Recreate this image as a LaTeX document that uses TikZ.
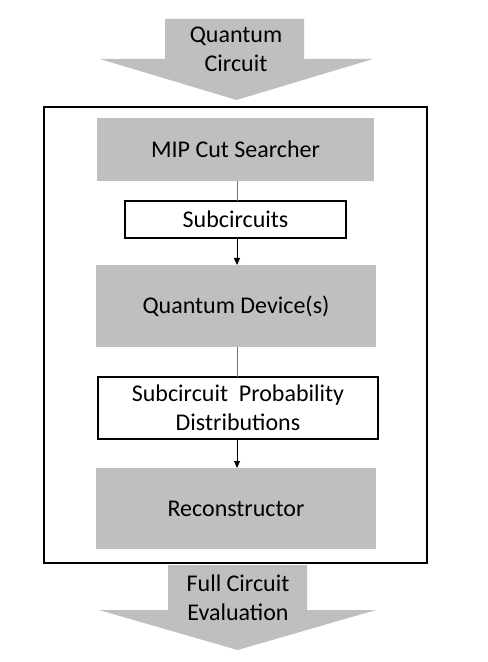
\documentclass[tikz,border=0pt]{standalone}
\usepackage{fontspec}
\setmainfont{Carlito}
\usetikzlibrary{arrows.meta}
\definecolor{boxgray}{RGB}{191,191,191}
\tikzset{
  graybox/.style={fill=boxgray, draw=none, inner sep=0pt, align=center},
  whitebox/.style={fill=white, draw=black, line width=0.6pt, inner sep=0pt, align=center},
  plainline/.style={draw=black!55, line width=0.5pt},
  arrowline/.style={draw=black, line width=0.5pt, -{Triangle[width=3pt,length=3.5pt]}},
  blockarrow/.style={fill=boxgray, draw=none},
  txt/.style={font=\fontsize{12}{14.5}\selectfont}
}
\begin{document}
\begin{tikzpicture}[x=0.5pt,y=-0.5pt, every node/.style={txt}]
\useasboundingbox (0,0) rectangle (487,662);
% top block arrow
\fill[blockarrow] (165,19) -- (304,19) -- (304,59) -- (373,59) -- (236.5,100) -- (100,59) -- (165,59) -- cycle;
\node[align=center] (qc) at (236,49) {Quantum\\Circuit};
% outer frame
\draw[line width=0.9pt] (44,107) rectangle (427,563);
% boxes
\node[graybox, minimum width=138.5pt, minimum height=31.5pt] (mip) at (235.5,149.5) {MIP Cut Searcher};
\node[whitebox, minimum width=110.5pt, minimum height=18.5pt] (sub) at (235.5,219.5) {Subcircuits};
\node[graybox, minimum width=140pt, minimum height=41pt] (qd) at (236,306) {Quantum Device(s)};
\node[whitebox, minimum width=140pt, minimum height=31pt] (spd) at (238,408) {Subcircuit~~Probability\\Distributions};
\node[graybox, minimum width=140pt, minimum height=40.5pt] (rec) at (236,508.5) {Reconstructor};
% connectors
\coordinate (c1) at (237,181);
\coordinate (c2) at (237,201);
\coordinate (c3) at (237,238);
\coordinate (c4) at (237,265);
\coordinate (c5) at (237,347);
\coordinate (c6) at (237,377);
\coordinate (c7) at (237,439);
\coordinate (c8) at (237,468);
\draw[plainline] (c1) -- (c2);
\draw[arrowline] (c3) -- (c4);
\draw[plainline] (c5) -- (c6);
\draw[arrowline] (c7) -- (c8);
% bottom block arrow
\fill[blockarrow] (168,565) -- (307,565) -- (307,610) -- (376,610) -- (237.5,650) -- (99,610) -- (168,610) -- cycle;
\node[align=center] (fce) at (238,598) {Full Circuit\\Evaluation};
\end{tikzpicture}
\end{document}
